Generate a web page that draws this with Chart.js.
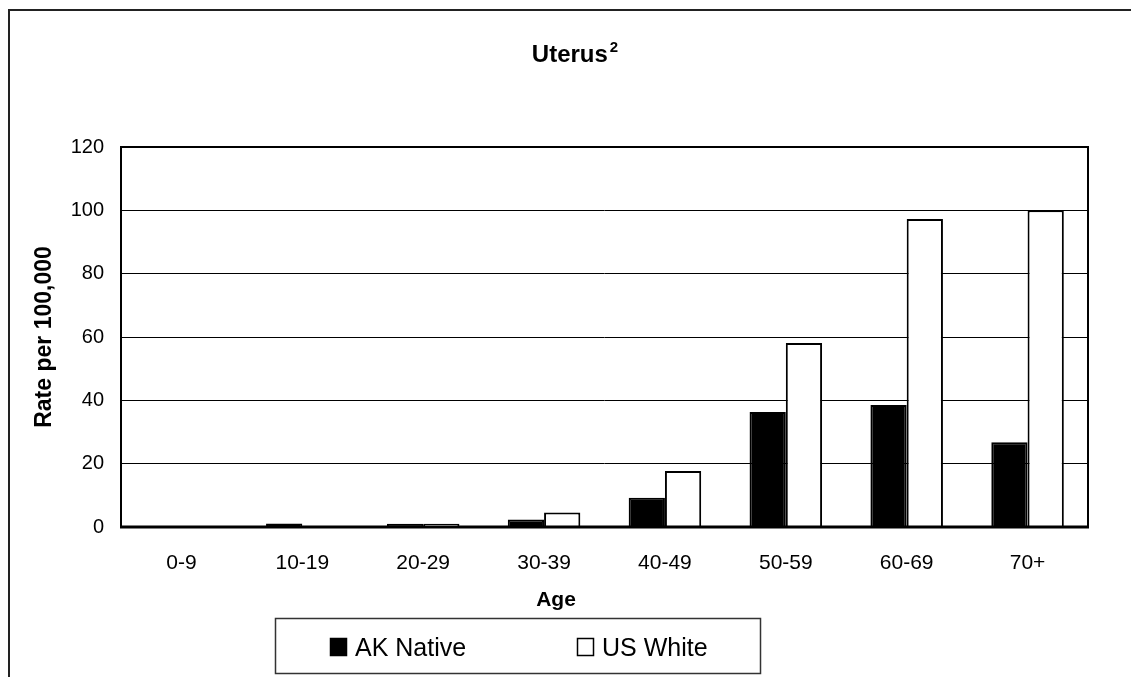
<!DOCTYPE html>
<html>
<head>
<meta charset="utf-8">
<title>Uterus</title>
<script src="https://cdn.jsdelivr.net/npm/chart.js@4.4.1/dist/chart.umd.min.js"></script>
<style>
  body { margin: 0; background: #fff; }
  canvas { display: block; }
</style>
</head>
<body>
<canvas id="chart" width="1131" height="677"></canvas>
<script>
// data
const ageGroups = ['0-9', '10-19', '20-29', '30-39', '40-49', '50-59', '60-69', '70+'];
const akNative = [0, 1.1, 1.0, 2.4, 9.2, 36.3, 38.5, 26.8];
const usWhite = [0, 0, 1.0, 4.6, 17.7, 58.1, 97.3, 100];
const yTicks = [0, 20, 40, 60, 80, 100, 120];

const FONT = "'Liberation Sans', Arial, Helvetica, sans-serif";

// outer frame, title, "Age" label, legend box
const extras = {
    id: 'extras',
    beforeDraw(chart) {
        const c = chart.ctx;
        c.save();
        c.fillStyle = '#fff';
        c.fillRect(0, 0, chart.width, chart.height);
        c.restore();
    },
    afterDatasetsDraw(chart) {
        const c = chart.ctx;
        const a = chart.chartArea;
        c.save();
        c.strokeStyle = '#000';
        c.lineWidth = 2;
        c.strokeRect(a.left, a.top, a.right - a.left, a.bottom - a.top);
        c.lineWidth = 3;
        c.beginPath();
        c.moveTo(a.left - 1, a.bottom);
        c.lineTo(a.right + 1, a.bottom);
        c.stroke();
        c.restore();
    },
    afterDraw(chart) {
        const c = chart.ctx;
        c.save();

        // outer frame (left + top only visible)
        c.strokeStyle = '#222';
        c.lineWidth = 2;
        c.beginPath();
        c.moveTo(9, chart.height);
        c.lineTo(9, 10);
        c.lineTo(chart.width, 10);
        c.stroke();

        // title with superscript
        c.fillStyle = '#000';
        c.textBaseline = 'alphabetic';
        c.font = 'bold 24px ' + FONT;
        const t = 'Uterus';
        const tw = c.measureText(t).width;
        c.font = 'bold 15px ' + FONT;
        const sw = c.measureText('2').width;
        const tx = 575 - (tw + sw + 2) / 2;
        c.font = 'bold 24px ' + FONT;
        c.textAlign = 'left';
        c.fillText(t, tx, 62);
        c.font = 'bold 15px ' + FONT;
        c.fillText('2', tx + tw + 2, 52);

        // x axis title
        c.font = 'bold 21px ' + FONT;
        c.textAlign = 'center';
        c.fillText('Age', 556, 606);

        // legend
        c.strokeStyle = '#333';
        c.lineWidth = 1.5;
        c.strokeRect(275.5, 618.5, 485, 55);
        const items = [{ x: 330, tx: 355 }, { x: 577, tx: 602 }];
        c.font = '25px ' + FONT;
        c.textAlign = 'left';
        chart.data.datasets.forEach((ds, i) => {
            const it = items[i];
            c.fillStyle = ds.backgroundColor;
            c.fillRect(it.x, 638, 17, 18);
            c.strokeStyle = '#000';
            c.lineWidth = 1.5;
            c.strokeRect(it.x + 0.5, 638.5, 16, 17);
            c.fillStyle = '#000';
            c.fillText(ds.label, it.tx, 656);
        });
        c.restore();
    }
};

new Chart(document.querySelector('#chart'), {
    type: 'bar',
    data: {
        labels: ageGroups,
        datasets: [
            {
                label: 'AK Native',
                data: akNative,
                backgroundColor: '#000',
                borderColor: '#000',
                borderWidth: 2,
                borderSkipped: 'start'
            },
            {
                label: 'US White',
                data: usWhite,
                backgroundColor: '#fff',
                borderColor: '#000',
                borderWidth: 2,
                borderSkipped: 'start'
            }
        ]
    },
    options: {
        responsive: false,
        animation: false,
        events: [],
        categoryPercentage: 0.6,
        barPercentage: 1.0,
        layout: {
            padding: { left: 20, top: 147, right: 43, bottom: 100 }
        },
        plugins: {
            legend: { display: false },
            title: { display: false },
            tooltip: { enabled: false }
        },
        scales: {
            x: {
                grid: { display: false, drawTicks: false },
                border: { display: false },
                ticks: {
                    color: '#000',
                    padding: 24,
                    font: { family: FONT, size: 21 }
                },
                afterFit(scale) { scale.height = 50; }
            },
            y: {
                min: 0,
                max: 120,
                afterBuildTicks(scale) {
                    scale.ticks = yTicks.map(v => ({ value: v }));
                },
                grid: { color: '#000', lineWidth: 1, drawTicks: false },
                border: { display: false },
                ticks: {
                    color: '#000',
                    padding: 17,
                    font: { family: FONT, size: 20 }
                },
                title: {
                    display: true,
                    text: 'Rate per 100,000',
                    color: '#000',
                    padding: { top: 11, bottom: 0 },
                    font: { family: FONT, size: 23, weight: 'bold' }
                },
                afterFit(scale) { scale.width = 101; }
            }
        }
    },
    plugins: [extras]
});
</script>
</body>
</html>
